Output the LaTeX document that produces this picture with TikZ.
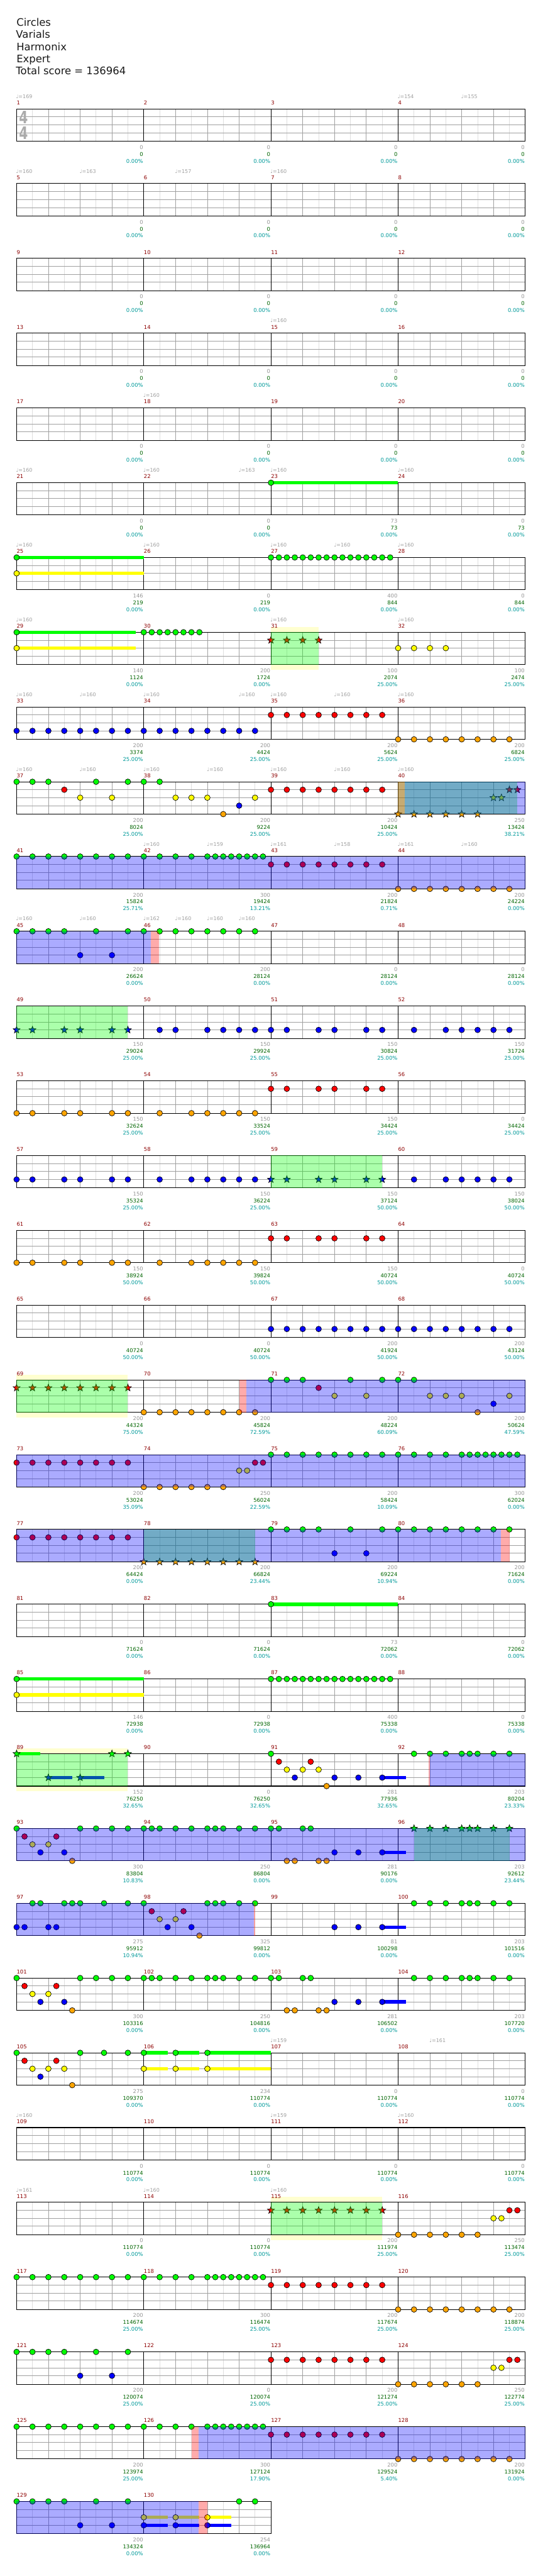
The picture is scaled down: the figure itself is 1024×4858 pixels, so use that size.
\documentclass[tikz,border=0pt]{standalone}
\usepackage{fontspec}
\setmainfont{DejaVu Sans}
\usepackage{tikz}
\usetikzlibrary{calc}

\definecolor{lane0}{RGB}{0,255,0}
\definecolor{lane1}{RGB}{255,0,0}
\definecolor{lane2}{RGB}{255,255,0}
\definecolor{lane3}{RGB}{0,0,255}
\definecolor{lane4}{RGB}{255,165,0}
\definecolor{barred}{RGB}{140,0,0}
\definecolor{ptgray}{RGB}{150,150,150}
\definecolor{ptgreen}{RGB}{0,100,0}
\definecolor{ptteal}{RGB}{0,153,153}
\definecolor{gridbeat}{RGB}{160,160,160}
\definecolor{gridhalf}{RGB}{222,222,222}
\definecolor{solopale}{RGB}{255,255,208}

% measure #1, position #2 in sixteenths -> \mx, \my (staff top)
\newcommand\mxy[2]{%
  \pgfmathtruncatemacro\mrow{(#1-1)/4}%
  \pgfmathtruncatemacro\mcol{#1-1-4*\mrow}%
  \pgfmathsetmacro\mx{31.3+240*\mcol+15*(#2)}%
  \pgfmathsetmacro\my{205.3+141*\mrow}}
\newcommand\hit[3]{%
  \foreach \p in {#3}{%
    \mxy{#1}{\p}\pgfmathsetmacro\ny{\my+15*#2+(#2==4)}%
    \draw[gem, fill=lane#2] (\mx,\ny) circle[radius=5.3];}}
\newcommand\starhit[3]{%
  \foreach \p in {#3}{%
    \mxy{#1}{\p}\pgfmathsetmacro\ny{\my+15*#2+(#2==4)}%
    \draw[gem, fill=lane#2, shift={(\mx,\ny)}] (-90:7) -- (-54:2.9) -- (-18:7) -- (18:2.9)
      -- (54:7) -- (90:2.9) -- (126:7) -- (162:2.9) -- (198:7) -- (234:2.9) -- cycle;}}
\newcommand\hold[4]{%
  \mxy{#1}{#3}\let\xa\mx
  \mxy{#1}{#4}\pgfmathsetmacro\ny{\my+15*#2+(#2==4)}%
  \draw[tail, draw=lane#2] (\xa,\ny) -- (\mx,\ny);}
\newcommand\zone[5]{%
  \mxy{#2}{#3}\let\xa\mx
  \mxy{#4}{#5}%
  \fill[#1] (\xa,\my) rectangle (\mx,\my+61);}
\newcommand\staffrow[2]{%
  \pgfmathsetmacro\ry{205.3+141*#1}%
  \pgfmathsetmacro\rw{31.3+240*#2}%
  \pgfmathtruncatemacro\nh{8*#2-1}%
  \pgfmathtruncatemacro\nb{4*#2-1}%
  \pgfmathtruncatemacro\nm{#2-1}%
  \fill[white] (31.3,\ry) rectangle (\rw,\ry+61);
  \foreach \k in {1,3,...,\nh} \draw[halfline] (31.3+30*\k,\ry) -- ++(0,61);
  \foreach \k in {1,...,\nb} \draw[beatline] (31.3+60*\k,\ry) -- ++(0,61);
  \foreach \k in {1,2,3} \draw[beatline] (31.3,\ry+15*\k) -- (\rw,\ry+15*\k);
  \foreach \k in {1,...,\nm} \draw[barline] (31.3+240*\k,\ry) -- ++(0,61);
  \draw[staffbox] (31.3,\ry) rectangle (\rw,\ry+61);}

\begin{document}
\begin{tikzpicture}[
  x=1pt, y=-1pt,
  title/.style={anchor=base west, inner sep=0, text=black!90, font=\fontsize{19.5}{23}\selectfont},
  barno/.style={anchor=base west, inner sep=0, text=barred, font=\fontsize{10}{12}\selectfont},
  bpm/.style={anchor=base west, inner sep=0, text=black!38, font=\fontsize{9.5}{11}\selectfont},
  ptsg/.style={anchor=base east, inner sep=0, text=ptgray, font=\fontsize{10}{12}\selectfont},
  ptsc/.style={anchor=base east, inner sep=0, text=ptgreen, font=\fontsize{10}{12}\selectfont},
  ptsp/.style={anchor=base east, inner sep=0, text=ptteal, font=\fontsize{10}{12}\selectfont},
  meter/.style={inner sep=0, text=black!33, font=\fontsize{24}{24}\selectfont\bfseries},
  gem/.style={draw=black, line width=0.8},
  tail/.style={line width=6.5, line cap=butt},
  halfline/.style={draw=gridhalf, line width=1},
  beatline/.style={draw=gridbeat, line width=1},
  barline/.style={draw=black, line width=1.1},
  staffbox/.style={draw=black, line width=1.2},
  solo/.style={fill=lane0, fill opacity=0.33},
  sp/.style={fill=lane3, fill opacity=0.33},
  spend/.style={fill=lane1, fill opacity=0.33},
]
\useasboundingbox (0,0) rectangle (1024,4858);

\node[title] (song)    at (31,49)  {Circles};
\node[title] (artist)  at (30,72)  {Varials};
\node[title] (charter) at (31,95)  {Harmonix};
\node[title] (level)   at (31,118) {Expert};
\node[title] (total)   at (30,141) {Total score = 136964};

% solo bands
\foreach \m/\a/\b in {31/0/6, 69/0/14, 89/0/14, 115/0/14}{%
  \mxy{\m}{\a}\let\xa\mx \mxy{\m}{\b}%
  \fill[solopale] (\xa,\my-10) rectangle (\mx,\my+71);}

% staves
\foreach \r in {0,...,31}{\staffrow{\r}{4}}
\staffrow{32}{2}
\node[meter] (meterup) at (44.5,221) {\scalebox{1}[1.35]{4}};
\node[meter] (meterdn) at (44.5,251) {\scalebox{1}[1.35]{4}};

% sustains
\hold{23}{0}{0}{16}
\hold{25}{0}{0}{16} \hold{25}{2}{0}{16}
\hold{29}{0}{0}{15} \hold{29}{2}{0}{15}
\hold{83}{0}{0}{16}
\hold{85}{0}{0}{16} \hold{85}{2}{0}{16}
\hold{89}{0}{0}{3} \hold{89}{3}{4}{7} \hold{89}{3}{8}{11}
\hold{91}{3}{14}{17} \hold{95}{3}{14}{17} \hold{99}{3}{14}{17} \hold{103}{3}{14}{17}
\hold{106}{0}{0}{3} \hold{106}{0}{4}{7} \hold{106}{0}{8}{16}
\hold{106}{2}{0}{3} \hold{106}{2}{4}{7} \hold{106}{2}{8}{16}
\hold{130}{2}{0}{3} \hold{130}{2}{4}{7} \hold{130}{2}{8}{11}
\hold{130}{3}{0}{3} \hold{130}{3}{4}{7} \hold{130}{3}{8}{11}

% gems
\hit{23}{0}{0}
\hit{25}{0}{0} \hit{25}{2}{0}
\hit{27}{0}{0,...,15}
\hit{29}{0}{0} \hit{29}{2}{0}
\hit{30}{0}{0,...,7}
\starhit{31}{1}{0,2,4,6}
\hit{32}{2}{0,2,4,6}
\hit{33}{3}{0,2,...,14} \hit{34}{3}{0,2,...,14}
\hit{35}{1}{0,2,...,14} \hit{36}{4}{0,2,...,14}
\hit{37}{0}{0,2,4,10,14} \hit{37}{1}{6} \hit{37}{2}{8,12}
\hit{38}{0}{0,2} \hit{38}{2}{4,6,8,14} \hit{38}{4}{10} \hit{38}{3}{12}
\hit{39}{1}{0,2,...,14}
\starhit{40}{4}{0,2,...,10} \starhit{40}{2}{12,13} \starhit{40}{1}{14,15}
\hit{41}{0}{0,2,...,14}
\hit{42}{0}{0,2,4,6,8,9,...,15}
\hit{43}{1}{0,2,...,14} \hit{44}{4}{0,2,...,14}
\hit{45}{0}{0,2,4,6,10,14} \hit{45}{3}{8,12}
\hit{46}{0}{0,2,...,14}
\starhit{49}{3}{0,2,6,8,12,14}
\hit{50}{3}{2,4,8,10,12,14}
\hit{51}{3}{0,2,6,8,12,14}
\hit{52}{3}{2,6,8,10,12,14}
\hit{53}{4}{0,2,6,8,12,14}
\hit{54}{4}{2,6,8,10,12,14}
\hit{55}{1}{0,2,6,8,12,14}
\hit{57}{3}{0,2,6,8,12,14}
\hit{58}{3}{2,6,8,10,12,14}
\starhit{59}{3}{0,2,6,8,12,14}
\hit{60}{3}{2,6,8,10,12,14}
\hit{61}{4}{0,2,6,8,12,14}
\hit{62}{4}{2,6,8,10,12,14}
\hit{63}{1}{0,2,6,8,12,14}
\hit{67}{3}{0,2,...,14} \hit{68}{3}{0,2,...,14}
\starhit{69}{1}{0,2,...,14}
\hit{70}{4}{0,2,...,14}
\hit{71}{0}{0,2,4,10,14} \hit{71}{1}{6} \hit{71}{2}{8,12}
\hit{72}{0}{0,2} \hit{72}{2}{4,6,8,14} \hit{72}{4}{10} \hit{72}{3}{12}
\hit{73}{1}{0,2,...,14}
\hit{74}{4}{0,2,...,10} \hit{74}{2}{12,13} \hit{74}{1}{14,15}
\hit{75}{0}{0,2,...,14}
\hit{76}{0}{0,2,4,6,8,9,...,15}
\hit{77}{1}{0,2,...,14}
\starhit{78}{4}{0,2,...,14}
\hit{79}{0}{0,2,4,6,10,14} \hit{79}{3}{8,12}
\hit{80}{0}{0,2,...,14}
\hit{83}{0}{0}
\hit{85}{0}{0} \hit{85}{2}{0}
\hit{87}{0}{0,...,15}
\starhit{89}{0}{0,12,14} \starhit{89}{3}{4,8}
\hit{91}{0}{0} \hit{91}{1}{1,5} \hit{91}{2}{2,4,6} \hit{91}{3}{3,8,11,14} \hit{91}{4}{7}
\hit{92}{0}{2,4,6,8,9,10,12,14}
\hit{93}{0}{0,8,10,12,14} \hit{93}{1}{1,5} \hit{93}{2}{2,4} \hit{93}{3}{3,6} \hit{93}{4}{7}
\hit{94}{0}{0,1,2,4,6,8,9,10,12,14}
\hit{95}{0}{0,1,4,5} \hit{95}{4}{2,3,6,7} \hit{95}{3}{8,11,14}
\starhit{96}{0}{2,4,6,8,9,10,12,14}
\hit{97}{3}{0,1,4,5} \hit{97}{0}{2,3,6,7,8,11,14}
\hit{98}{0}{0,8,9,10,12,14} \hit{98}{1}{1,5} \hit{98}{2}{2,4} \hit{98}{3}{3,6} \hit{98}{4}{7}
\hit{99}{3}{8,11,14}
\hit{100}{0}{2,4,6,8,9,10,12,14}
\hit{101}{0}{0,8,10,12,14} \hit{101}{1}{1,5} \hit{101}{2}{2,4} \hit{101}{3}{3,6} \hit{101}{4}{7}
\hit{102}{0}{0,1,2,4,6,8,9,10,12,14}
\hit{103}{0}{0,1,4,5} \hit{103}{4}{2,3,6,7} \hit{103}{3}{8,11,14}
\hit{104}{0}{2,4,6,8,9,10,12,14}
\hit{105}{0}{0,8,11,14} \hit{105}{1}{1,5} \hit{105}{2}{2,4,6} \hit{105}{3}{3} \hit{105}{4}{7}
\hit{106}{0}{0,4,8} \hit{106}{2}{0,4,8}
\starhit{115}{1}{0,2,...,14}
\hit{116}{4}{0,2,...,10} \hit{116}{2}{12,13} \hit{116}{1}{14,15}
\hit{117}{0}{0,2,...,14}
\hit{118}{0}{0,2,4,6,8,9,...,15}
\hit{119}{1}{0,2,...,14} \hit{120}{4}{0,2,...,14}
\hit{121}{0}{0,2,4,6,10,14} \hit{121}{3}{8,12}
\hit{123}{1}{0,2,...,14}
\hit{124}{4}{0,2,...,10} \hit{124}{2}{12,13} \hit{124}{1}{14,15}
\hit{125}{0}{0,2,...,14}
\hit{126}{0}{0,2,4,6,8,9,...,15}
\hit{127}{1}{0,2,...,14} \hit{128}{4}{0,2,...,14}
\hit{129}{0}{0,2,4,6,10,14} \hit{129}{3}{8,12}
\hit{130}{2}{0,4,8} \hit{130}{3}{0,4,8} \hit{130}{0}{12,14}

% solo and star power overlays
\zone{solo}{31}{0}{31}{6}
\zone{solo}{40}{0}{40}{15}
\zone{solo}{49}{0}{49}{14}
\zone{solo}{59}{0}{59}{14}
\zone{solo}{69}{0}{69}{14}
\zone{solo}{78}{0}{78}{14}
\zone{solo}{89}{0}{89}{14}
\zone{solo}{96}{2}{96}{14}
\zone{solo}{115}{0}{115}{14}
\zone{sp}{40}{0.87}{40}{16}
\zone{sp}{41}{0}{44}{16}
\zone{sp}{45}{0}{46}{0.9}
\zone{sp}{70}{12.9}{72}{16}
\zone{sp}{73}{0}{76}{16}
\zone{sp}{77}{0}{80}{12.9}
\zone{sp}{92}{4}{92}{16}
\zone{sp}{93}{0}{96}{16}
\zone{sp}{97}{0}{98}{13.85}
\zone{sp}{126}{6.9}{128}{16}
\zone{sp}{129}{0}{130}{6.9}
\zone{spend}{40}{0}{40}{0.87}
\zone{spend}{46}{0.9}{46}{1.9}
\zone{spend}{70}{12}{70}{12.9}
\zone{spend}{80}{12.9}{80}{14}
\zone{spend}{92}{3.85}{92}{4}
\zone{spend}{98}{13.85}{98}{14}
\zone{spend}{126}{6}{126}{6.9}
\zone{spend}{130}{6.9}{130}{8}

% bar numbers
\foreach \m in {1,...,130}{\mxy{\m}{0}\node[barno] (bar\m) at (\mx,\my-8) {\m};}

% tempo marks
\foreach \m/\p/\t [count=\i] in {1/0/169, 4/0/154, 4/8/155, 5/0/160, 5/8/163, 6/4/157, 7/0/160,
  15/0/160, 18/0/160,
  21/0/160, 22/0/160, 22/12/163, 23/0/160, 24/0/160,
  25/0/160, 26/0/160, 27/0/160, 27/8/160, 28/0/160, 29/0/160, 31/0/160, 32/0/160,
  33/0/160, 33/8/160, 34/0/160, 34/12/160, 35/0/160, 35/8/160, 36/0/160,
  37/0/160, 37/8/160, 38/0/160, 38/8/160, 39/0/160, 39/8/160, 40/0/160,
  42/0/160, 42/8/159, 43/0/161, 43/8/158, 44/0/161, 44/8/160,
  45/0/160, 45/8/160, 46/0/162, 46/4/160, 46/8/160, 46/12/160,
  107/0/159, 108/4/161, 109/0/160, 111/0/159, 112/0/160,
  113/0/161, 114/0/160, 115/0/160}{%
  \mxy{\m}{\p}\node[bpm] (bpm\i) at (\mx-1,\my-20) {♩=\t};}

% per-measure scores
\foreach \m in {1,...,22}{%
  \mxy{\m}{16}%
  \node[ptsg] (pg\m) at (\mx-1,\my+76) {0};
  \node[ptsc] (pc\m) at (\mx-1,\my+89) {0};
  \node[ptsp] (pp\m) at (\mx-1,\my+102) {0.00\%};}
\foreach \m/\g/\c/\p in {23/73/73/0.00, 24/0/73/0.00,
  25/146/219/0.00, 26/0/219/0.00, 27/400/844/0.00, 28/0/844/0.00,
  29/140/1124/0.00, 30/200/1724/0.00, 31/100/2074/25.00, 32/100/2474/25.00,
  33/200/3374/25.00, 34/200/4424/25.00, 35/200/5624/25.00, 36/200/6824/25.00,
  37/200/8024/25.00, 38/200/9224/25.00, 39/200/10424/25.00, 40/250/13424/38.21,
  41/200/15824/25.71, 42/300/19424/13.21, 43/200/21824/0.71, 44/200/24224/0.00,
  45/200/26624/0.00, 46/200/28124/0.00, 47/0/28124/0.00, 48/0/28124/0.00,
  49/150/29024/25.00, 50/150/29924/25.00, 51/150/30824/25.00, 52/150/31724/25.00,
  53/150/32624/25.00, 54/150/33524/25.00, 55/150/34424/25.00, 56/0/34424/25.00,
  57/150/35324/25.00, 58/150/36224/25.00, 59/150/37124/50.00, 60/150/38024/50.00,
  61/150/38924/50.00, 62/150/39824/50.00, 63/150/40724/50.00, 64/0/40724/50.00,
  65/0/40724/50.00, 66/0/40724/50.00, 67/200/41924/50.00, 68/200/43124/50.00,
  69/200/44324/75.00, 70/200/45824/72.59, 71/200/48224/60.09, 72/200/50624/47.59,
  73/200/53024/35.09, 74/250/56024/22.59, 75/200/58424/10.09, 76/300/62024/0.00,
  77/200/64424/0.00, 78/200/66824/23.44, 79/200/69224/10.94, 80/200/71624/0.00,
  81/0/71624/0.00, 82/0/71624/0.00, 83/73/72062/0.00, 84/0/72062/0.00,
  85/146/72938/0.00, 86/0/72938/0.00, 87/400/75338/0.00, 88/0/75338/0.00,
  89/152/76250/32.65, 90/0/76250/32.65, 91/281/77936/32.65, 92/203/80204/23.33,
  93/300/83804/10.83, 94/250/86804/0.00, 95/281/90176/0.00, 96/203/92612/23.44,
  97/275/95912/10.94, 98/325/99812/0.00, 99/81/100298/0.00, 100/203/101516/0.00,
  101/300/103316/0.00, 102/250/104816/0.00, 103/281/106502/0.00, 104/203/107720/0.00,
  105/275/109370/0.00, 106/234/110774/0.00, 107/0/110774/0.00, 108/0/110774/0.00,
  109/0/110774/0.00, 110/0/110774/0.00, 111/0/110774/0.00, 112/0/110774/0.00,
  113/0/110774/0.00, 114/0/110774/0.00, 115/200/111974/25.00, 116/250/113474/25.00,
  117/200/114674/25.00, 118/300/116474/25.00, 119/200/117674/25.00, 120/200/118874/25.00,
  121/200/120074/25.00, 122/0/120074/25.00, 123/200/121274/25.00, 124/250/122774/25.00,
  125/200/123974/25.00, 126/300/127124/17.90, 127/200/129524/5.40, 128/200/131924/0.00,
  129/200/134324/0.00, 130/254/136964/0.00}{%
  \mxy{\m}{16}%
  \node[ptsg] (pg\m) at (\mx-1,\my+76) {\g};
  \node[ptsc] (pc\m) at (\mx-1,\my+89) {\c};
  \node[ptsp] (pp\m) at (\mx-1,\my+102) {\p\%};}

\end{tikzpicture}
\end{document}
